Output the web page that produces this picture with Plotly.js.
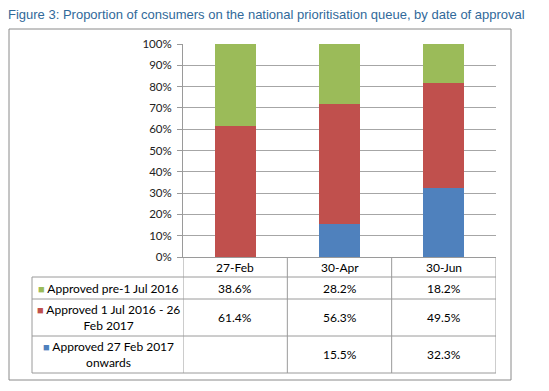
<!DOCTYPE html>
<html><head><meta charset="utf-8">
<script src="https://cdn.plot.ly/plotly-3.0.1.min.js"></script>
<style>body{margin:0;background:#fff}</style>
</head><body><div id="chart" style="width:549px;height:391px"></div>
<script>
// ---- data ----
const categories = ['27-Feb', '30-Apr', '30-Jun'];
const greenName = 'Approved pre-1 Jul 2016';
const redName = 'Approved 1 Jul 2016 - 26 Feb 2017';
const blueName = 'Approved 27 Feb 2017 onwards';
const greenValues = [38.6, 28.2, 18.2];
const redValues = [61.4, 56.3, 49.5];
const blueValues = [null, 15.5, 32.3];
const tableRowLabels = ['Approved pre-1 Jul 2016', 'Approved 1 Jul 2016 - 26<br>Feb 2017', 'Approved 27 Feb 2017<br>onwards'];
const yTickValues = [0, 10, 20, 30, 40, 50, 60, 70, 80, 90, 100];
const yTickLabels = ['0%', '10%', '20%', '30%', '40%', '50%', '60%', '70%', '80%', '90%', '100%'];
const titleText = 'Figure 3: Proportion of consumers on the national prioritisation queue, by date of approval';

// ---- styles ----
const colors = {green: '#9BBB59', red: '#C0504D', blue: '#4F81BD'};
const W = 549, H = 391;
const M = {l: 183, r: 53, t: 44, b: 134};
const plotW = W - M.l - M.r, plotH = H - M.t - M.b;
const px2x = p => (p - M.l) / plotW;
const px2y = p => (H - M.b - p) / plotH;
const font = 'Lato, "Open Sans", sans-serif';
const lineCol = '#9a9a9a';

// table row boundaries (pixel layout)
const rowEdges = [257, 277, 299, 336, 373];
const labelLeft = 32, labelRight = 184;

const traces = [
  {type: 'bar', name: blueName, x: categories, y: blueValues, marker: {color: colors.blue}},
  {type: 'bar', name: redName, x: categories, y: redValues, marker: {color: colors.red}},
  {type: 'bar', name: greenName, x: categories, y: greenValues, marker: {color: colors.green}}
];

const shapes = [];
const annotations = [];
// outer box
shapes.push({type: 'rect', xref: 'paper', yref: 'paper', x0: px2x(9), x1: px2x(511), y0: px2y(380), y1: px2y(29),
  line: {color: '#8a8a8a', width: 1}, fillcolor: 'rgba(0,0,0,0)'});
// horizontal table lines
for (let i = 1; i < rowEdges.length; i++) {
  shapes.push({type: 'line', xref: 'paper', yref: 'paper', x0: px2x(labelLeft), x1: 1,
    y0: px2y(rowEdges[i]), y1: px2y(rowEdges[i]), line: {color: lineCol, width: 1}});
}
// vertical lines at category boundaries
for (let i = 0; i <= categories.length; i++) {
  shapes.push({type: 'line', xref: 'x', yref: 'paper', x0: i - 0.5, x1: i - 0.5,
    y0: 0, y1: px2y(rowEdges[rowEdges.length - 1]), line: {color: lineCol, width: 1}});
}
// left line of label column
shapes.push({type: 'line', xref: 'paper', yref: 'paper', x0: px2x(labelLeft), x1: px2x(labelLeft),
  y0: px2y(rowEdges[1]), y1: px2y(rowEdges[rowEdges.length - 1]), line: {color: lineCol, width: 1}});

// category header labels
categories.forEach((c, i) => {
  annotations.push({xref: 'x', yref: 'paper', x: c, y: px2y((rowEdges[0] + rowEdges[1]) / 2),
    text: c, showarrow: false, yanchor: 'middle', xanchor: 'center',
    font: {family: font, size: 12, color: '#000'}});
});
// row labels + values
const rowData = [greenValues, redValues, blueValues];
const rowColors = [colors.green, colors.red, colors.blue];
rowData.forEach((vals, r) => {
  const yc = px2y((rowEdges[r + 1] + rowEdges[r + 2]) / 2);
  annotations.push({xref: 'paper', yref: 'paper', x: px2x((labelLeft + labelRight) / 2), y: yc,
    text: '<span style="color:' + rowColors[r] + ';font-size:11px">■</span> ' + tableRowLabels[r],
    showarrow: false, align: 'center', xanchor: 'center', yanchor: 'middle',
    font: {family: font, size: 12, color: '#000'}});
  vals.forEach((v, i) => {
    annotations.push({xref: 'x', yref: 'paper', x: categories[i], y: yc,
      text: v == null ? '' : v.toFixed(1) + '%', showarrow: false, xanchor: 'center', yanchor: 'middle',
      font: {family: font, size: 12, color: '#000'}});
  });
});

const layout = {
  width: W, height: H, margin: M,
  paper_bgcolor: '#fff', plot_bgcolor: '#fff',
  barmode: 'stack', bargap: 0.607, showlegend: false,
  title: {text: titleText, xref: 'container', yref: 'container', x: 8 / W, xanchor: 'left',
    y: 1 - 14 / H, yanchor: 'middle', font: {family: '"Liberation Sans", Arial, sans-serif', size: 13, color: '#31699a'}},
  xaxis: {type: 'category', showticklabels: false, showgrid: false, zeroline: false,
    showline: true, linecolor: lineCol, linewidth: 1, range: [-0.5, 2.5], fixedrange: true},
  yaxis: {range: [0, 100], tickmode: 'array', tickvals: yTickValues, ticktext: yTickLabels,
    showgrid: true, gridcolor: '#a6a6a6', gridwidth: 1,
    zeroline: false, showline: true, linecolor: lineCol, ticks: 'outside', ticklen: 5, tickcolor: lineCol,
    ticklabelstandoff: 3,
    tickfont: {family: font, size: 11.5, color: '#222'}, fixedrange: true},
  shapes: shapes, annotations: annotations
};

Plotly.newPlot('chart', traces, layout, {displayModeBar: false, staticPlot: true});
</script>
</body></html>
